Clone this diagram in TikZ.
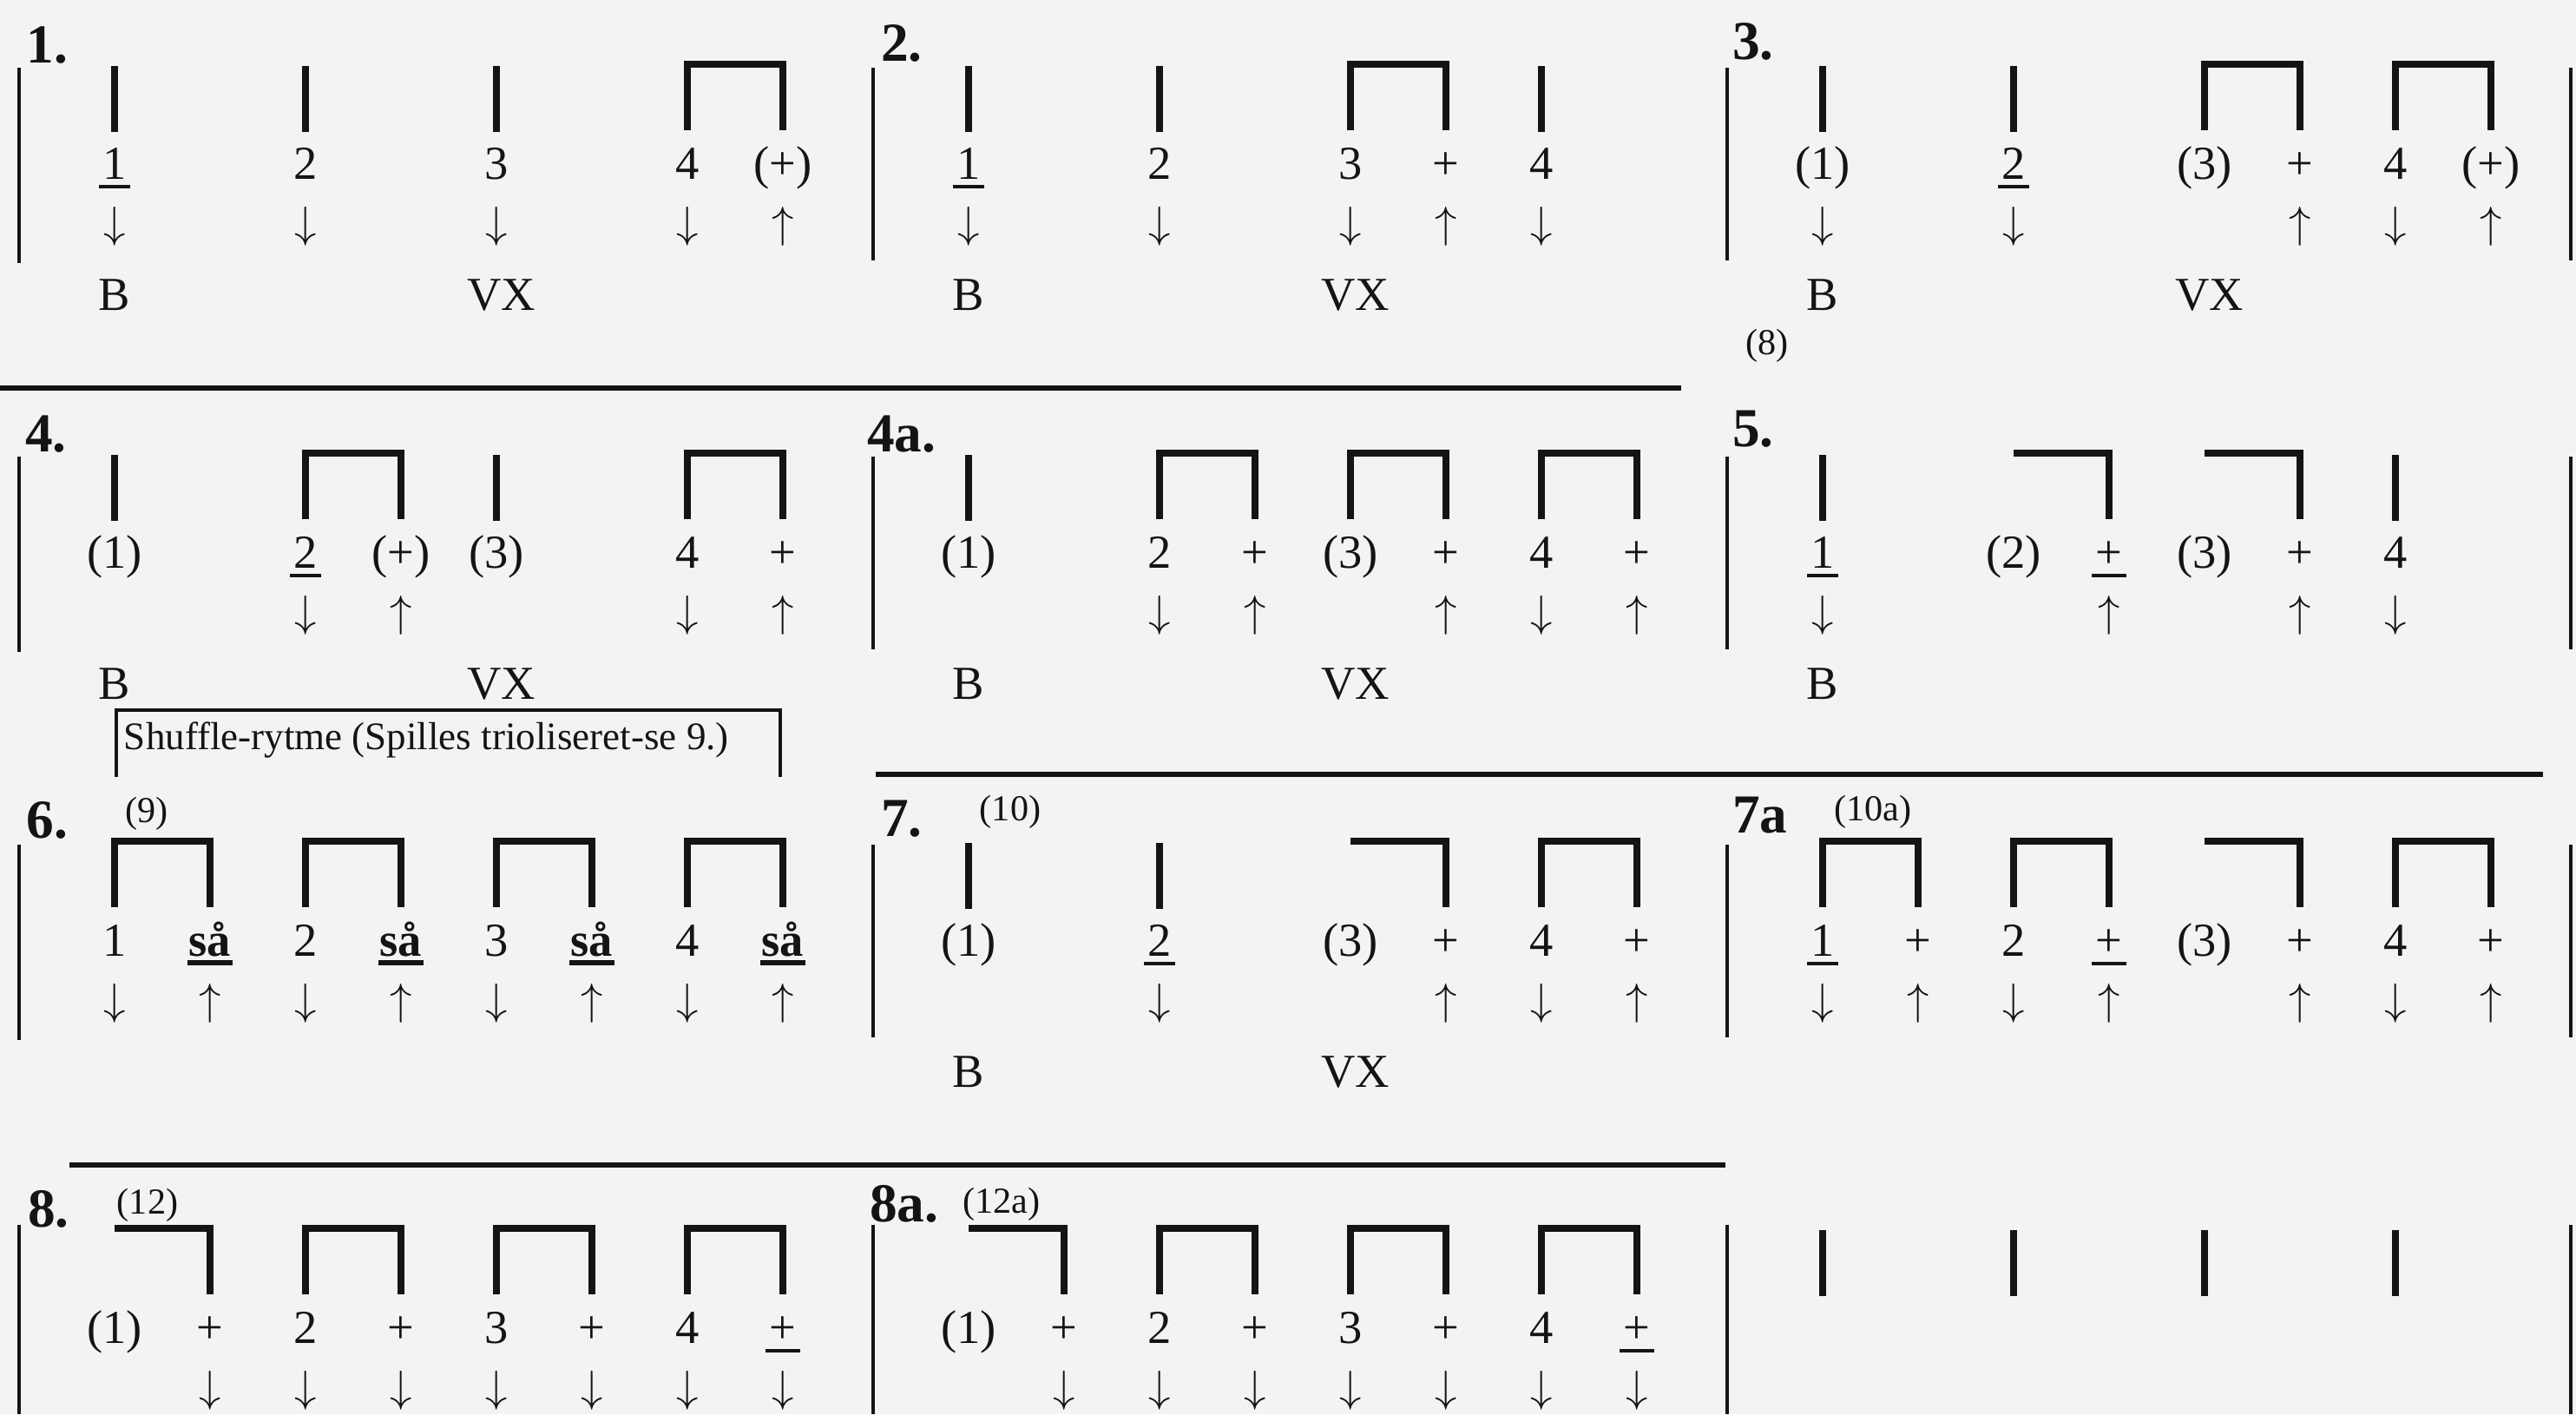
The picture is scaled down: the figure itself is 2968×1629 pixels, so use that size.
\documentclass[tikz,border=0pt]{standalone}
\usepackage{fontspec}
\setmainfont{Liberation Serif}
\definecolor{ink}{HTML}{141414}
\definecolor{paper}{HTML}{F3F3F2}
\newcommand\QU{110}
\newcommand\QStk[1]{\draw[stk] (#1*\QU,76) -- (#1*\QU,152);}
\newcommand\QBrk[1]{\draw[stk] (#1*\QU,150) -- (#1*\QU,74) -- (#1*\QU+\QU,74) -- (#1*\QU+\QU,150);}
\newcommand\QHk[1]{\draw[stk] (#1*\QU-\QU,74) -- (#1*\QU,74) -- (#1*\QU,150);}
\newcommand\QLb[3]{\node[lab] (#1) at (#2*\QU,206) {#3};}
\newcommand\QUL[3]{\node[lab] (#1) at (#2*\QU,206) {#3};\draw[ulin] ([xshift=-1.2pt,yshift=-2.6pt]#1.base west) -- ([xshift=1.2pt,yshift=-2.6pt]#1.base east);}
\newcommand\QSa[2]{\node[lab] (#1) at (#2*\QU,206) {\textbf{så}};\draw[draw=ink,line width=1.7pt] ([xshift=-0.5pt,yshift=-2.4pt]#1.base west) -- ([xshift=0.5pt,yshift=-2.4pt]#1.base east);}
\newcommand\QDn[2]{\node[arw] (#1) at (#2*\QU,261) {$\downarrow$};}
\newcommand\QUp[2]{\node[arw] (#1) at (#2*\QU,261) {$\uparrow$};}
\newcommand\QBt[3]{\node[lab] (#1) at (#2*\QU,357) {#3};}
\newcommand\QBar[2]{\draw[barl] (0,#1) -- (0,#2);}
\begin{document}
\begin{tikzpicture}[x=0.01cm,y=-0.01cm,
  every node/.style={inner sep=0pt,outer sep=0pt,text=ink},
  lab/.style={font=\fontsize{15.5}{18}\selectfont,anchor=base},
  arw/.style={font=\fontsize{15}{18}\selectfont,anchor=center},
  num/.style={font=\fontsize{18}{21}\selectfont\bfseries,anchor=base west},
  refl/.style={font=\fontsize{12}{14}\selectfont,anchor=center},
  stk/.style={draw=ink,line width=2.5pt},
  barl/.style={draw=ink,line width=1.3pt},
  rule/.style={draw=ink,line width=1.6pt},
  ulin/.style={draw=ink,line width=1.1pt},
  boxl/.style={draw=ink,line width=1.2pt}]
\fill[paper] (0,0) rectangle (2968,1629);
\useasboundingbox (0,0) rectangle (2968,1629);

% ---------------- Row 1 ----------------
\begin{scope}[shift={(22,0)}]
  \node[num] (n1) at (9,72) {1.};
  \QBar{78}{303}
  \QStk{1}\QStk{3}\QStk{5}\QBrk{7}
  \QUL{a1}{1}{1}\QLb{a2}{3}{2}\QLb{a3}{5}{3}\QLb{a4}{7}{4}\QLb{a5}{8}{(+)}
  \QDn{a6}{1}\QDn{a7}{3}\QDn{a8}{5}\QDn{a9}{7}\QUp{a10}{8}
  \QBt{a11}{1}{B}\QBt{a12}{5.05}{VX}
\end{scope}
\begin{scope}[shift={(1006,0)}]
  \node[num] (n2) at (9,70) {2.};
  \QBar{78}{300}
  \QStk{1}\QStk{3}\QBrk{5}\QStk{7}
  \QUL{b1}{1}{1}\QLb{b2}{3}{2}\QLb{b3}{5}{3}\QLb{b4}{6}{+}\QLb{b5}{7}{4}
  \QDn{b6}{1}\QDn{b7}{3}\QDn{b8}{5}\QUp{b9}{6}\QDn{b10}{7}
  \QBt{b11}{1}{B}\QBt{b12}{5.05}{VX}
\end{scope}
\begin{scope}[shift={(1990,0)}]
  \node[num] (n3) at (6,68) {3.};
  \QBar{78}{300}
  \QStk{1}\QStk{3}\QBrk{5}\QBrk{7}
  \QLb{c1}{1}{(1)}\QUL{c2}{3}{2}\QLb{c3}{5}{(3)}\QLb{c4}{6}{+}\QLb{c5}{7}{4}\QLb{c6}{8}{(+)}
  \QDn{c7}{1}\QDn{c8}{3}\QUp{c9}{6}\QDn{c10}{7}\QUp{c11}{8}
  \QBt{c12}{1}{B}\QBt{c13}{5.05}{VX}
\end{scope}
\draw[barl] (2962,78) -- (2962,300);
\node[refl] (r8) at (2036,398) {(8)};

\draw[rule] (0,447) -- (1937,447);

% ---------------- Row 2 ----------------
\begin{scope}[shift={(22,448)}]
  \node[num] (n4) at (7,72) {4.};
  \QBar{78}{303}
  \QStk{1}\QBrk{3}\QStk{5}\QBrk{7}
  \QLb{d1}{1}{(1)}\QUL{d2}{3}{2}\QLb{d3}{4}{(+)}\QLb{d4}{5}{(3)}\QLb{d5}{7}{4}\QLb{d6}{8}{+}
  \QDn{d7}{3}\QUp{d8}{4}\QDn{d9}{7}\QUp{d10}{8}
  \QBt{d11}{1}{B}\QBt{d12}{5.05}{VX}
\end{scope}
\begin{scope}[shift={(1006,448)}]
  \node[num] (n4a) at (-7,72) {4a.};
  \QBar{78}{300}
  \QStk{1}\QBrk{3}\QBrk{5}\QBrk{7}
  \QLb{e1}{1}{(1)}\QLb{e2}{3}{2}\QLb{e3}{4}{+}\QLb{e4}{5}{(3)}\QLb{e5}{6}{+}\QLb{e6}{7}{4}\QLb{e7}{8}{+}
  \QDn{e8}{3}\QUp{e9}{4}\QUp{e10}{6}\QDn{e11}{7}\QUp{e12}{8}
  \QBt{e13}{1}{B}\QBt{e14}{5.05}{VX}
\end{scope}
\begin{scope}[shift={(1990,448)}]
  \node[num] (n5) at (6,66) {5.};
  \QBar{78}{300}
  \QStk{1}\QHk{4}\QHk{6}\QStk{7}
  \QUL{f1}{1}{1}\QLb{f2}{3}{(2)}\QUL{f3}{4}{+}\QLb{f4}{5}{(3)}\QLb{f5}{6}{+}\QLb{f6}{7}{4}
  \QDn{f7}{1}\QUp{f8}{4}\QUp{f9}{6}\QDn{f10}{7}
  \QBt{f11}{1}{B}
\end{scope}
\draw[barl] (2962,526) -- (2962,748);

% shuffle box
\draw[boxl] (134,895) -- (134,818) -- (899,818) -- (899,895);
\node[refl,anchor=west,font=\fontsize{12.8}{14}\selectfont] (shuf) at (143,852) {Shuffle-rytme (Spilles trioliseret-se 9.)};

\draw[rule] (1009,892) -- (2930,892);

% ---------------- Row 3 ----------------
\begin{scope}[shift={(22,895)}]
  \node[num] (n6) at (9,70) {6.};
  \QBar{78}{303}
  \QBrk{1}\QBrk{3}\QBrk{5}\QBrk{7}
  \QLb{g1}{1}{1}\QSa{g2}{2}\QLb{g3}{3}{2}\QSa{g4}{4}\QLb{g5}{5}{3}\QSa{g6}{6}\QLb{g7}{7}{4}\QSa{g8}{8}
  \QDn{g9}{1}\QUp{g10}{2}\QDn{g11}{3}\QUp{g12}{4}\QDn{g13}{5}\QUp{g14}{6}\QDn{g15}{7}\QUp{g16}{8}
\end{scope}
\begin{scope}[shift={(1006,895)}]
  \node[num] (n7) at (9,68) {7.};
  \QBar{78}{300}
  \QStk{1}\QStk{3}\QHk{6}\QBrk{7}
  \QLb{h1}{1}{(1)}\QUL{h2}{3}{2}\QLb{h3}{5}{(3)}\QLb{h4}{6}{+}\QLb{h5}{7}{4}\QLb{h6}{8}{+}
  \QDn{h7}{3}\QUp{h8}{6}\QDn{h9}{7}\QUp{h10}{8}
  \QBt{h11}{1}{B}\QBt{h12}{5.05}{VX}
\end{scope}
\begin{scope}[shift={(1990,895)}]
  \node[num] (n7a) at (6,64) {7a};
  \QBar{78}{300}
  \QBrk{1}\QBrk{3}\QHk{6}\QBrk{7}
  \QUL{i1}{1}{1}\QLb{i2}{2}{+}\QLb{i3}{3}{2}\QUL{i4}{4}{+}\QLb{i5}{5}{(3)}\QLb{i6}{6}{+}\QLb{i7}{7}{4}\QLb{i8}{8}{+}
  \QDn{i9}{1}\QUp{i10}{2}\QDn{i11}{3}\QUp{i12}{4}\QUp{i13}{6}\QDn{i14}{7}\QUp{i15}{8}
\end{scope}
\draw[barl] (2962,973) -- (2962,1195);
\node[refl] (r9) at (169,937) {(9)};
\node[refl] (r10) at (1164,935) {(10)};
\node[refl] (r10a) at (2158,935) {(10a)};

\draw[rule] (80,1342) -- (1988,1342);

% ---------------- Row 4 ----------------
\begin{scope}[shift={(22,1341)}]
  \node[num] (n8) at (10,72) {8.};
  \QBar{70}{288}
  \QHk{2}\QBrk{3}\QBrk{5}\QBrk{7}
  \QLb{j1}{1}{(1)}\QLb{j2}{2}{+}\QLb{j3}{3}{2}\QLb{j4}{4}{+}\QLb{j5}{5}{3}\QLb{j6}{6}{+}\QLb{j7}{7}{4}\QUL{j8}{8}{+}
  \QDn{j9}{2}\QDn{j10}{3}\QDn{j11}{4}\QDn{j12}{5}\QDn{j13}{6}\QDn{j14}{7}\QDn{j15}{8}
\end{scope}
\begin{scope}[shift={(1006,1341)}]
  \node[num] (n8a) at (-4,66) {8a.};
  \QBar{70}{288}
  \QHk{2}\QBrk{3}\QBrk{5}\QBrk{7}
  \QLb{k1}{1}{(1)}\QLb{k2}{2}{+}\QLb{k3}{3}{2}\QLb{k4}{4}{+}\QLb{k5}{5}{3}\QLb{k6}{6}{+}\QLb{k7}{7}{4}\QUL{k8}{8}{+}
  \QDn{k9}{2}\QDn{k10}{3}\QDn{k11}{4}\QDn{k12}{5}\QDn{k13}{6}\QDn{k14}{7}\QDn{k15}{8}
\end{scope}
\begin{scope}[shift={(1990,1341)}]
  \QBar{70}{288}
  \QStk{1}\QStk{3}\QStk{5}\QStk{7}
\end{scope}
\draw[barl] (2962,1411) -- (2962,1629);
\node[refl] (r12) at (170,1388) {(12)};
\node[refl] (r12a) at (1154,1387) {(12a)};
\end{tikzpicture}
\end{document}
